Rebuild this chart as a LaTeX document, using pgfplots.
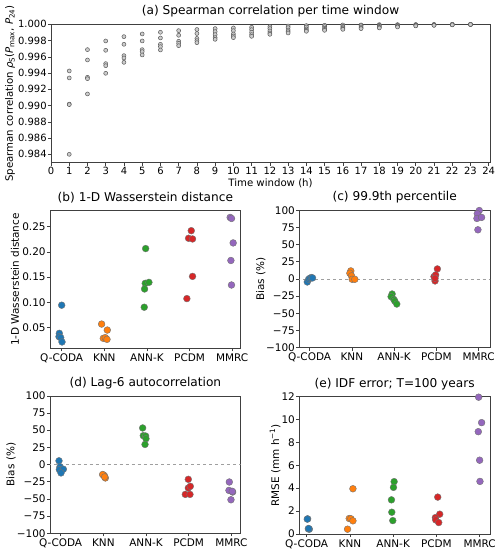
\documentclass[border=0pt]{standalone}
\usepackage{pgfplots}
\pgfplotsset{compat=1.18}
\usepackage{fontspec}
\setmainfont{DejaVu Sans}
\definecolor{c0}{HTML}{1F77B4}
\definecolor{c1}{HTML}{FF7F0E}
\definecolor{c2}{HTML}{2CA02C}
\definecolor{c3}{HTML}{D62728}
\definecolor{c4}{HTML}{9467BD}
\pgfplotsset{
  every axis/.append style={
    scale only axis,
    anchor=south west,
    axis line style={black!75, line width=0.6bp},
    tick pos=left, tick align=outside,
    major tick length=3bp,
    every tick/.style={black!75, line width=0.6bp},
    tick label style={font=\fontsize{10.5}{12}\selectfont, inner sep=1.2bp},
    label style={font=\fontsize{10.5}{12}\selectfont},
    title style={font=\fontsize{12.2}{14}\selectfont, at={(axis description cs:0.5,1)}, anchor=base, yshift=3.5bp},
    /pgf/number format/assume math mode=true,
  },
  ylab/.style={ylabel style={at={(axis description cs:#1,0.5)}, anchor=center}},
  cat/.style={
    width=190.7bp, height=137.5bp,
    xtick={0,1,2,3,4},
    xticklabels={Q-CODA,KNN,ANN-K,PCDM,MMRC},
    xticklabel style={yshift=-1bp},
  },
  strip/.style={only marks, mark=*, mark size=3.4bp,
    mark options={draw=black!55, line width=0.4bp, fill=#1}, color=#1},
  zero/.style={gray!75, dashed, line width=0.6bp, forget plot},
}
\pgfplotstableread{
w  a       b       c       d       e
1  0.99426 0.99340 0.99018 0.99012 0.98400
2  0.99688 0.99561 0.99348 0.99331 0.99143
3  0.99795 0.99680 0.99516 0.99491 0.99397
4  0.99848 0.99754 0.99614 0.99586 0.99532
5  0.99881 0.99795 0.99688 0.99664 0.99623
6  0.99902 0.99832 0.99754 0.99725 0.99684
7  0.99922 0.99865 0.99791 0.99766 0.99737
8  0.99936 0.99887 0.99826 0.99799 0.99774
9  0.99947 0.99910 0.99873 0.99836 0.99815
10 0.99955 0.99922 0.99881 0.99856 0.99836
11 0.99963 0.99934 0.99902 0.99873 0.99852
12 0.99971 0.99947 0.99918 0.99893 0.99877
13 0.99979 0.99959 0.99930 0.99910 0.99893
14 0.99984 0.99967 0.99943 0.99926 0.99914
15 0.99988 0.99971 0.99951 0.99938 0.99926
16 0.99992 0.99975 0.99959 0.99947 0.99938
17 0.99992 0.99984 0.99967 0.99955 0.99947
18 0.99996 0.99988 0.99975 0.99963 0.99955
19 0.99996 0.99992 0.99984 0.99975 0.99967
20 0.99997 0.99994 0.99990 0.99985 0.99980
21 0.99998 0.99996 0.99993 0.99990 0.99987
22 0.99999 0.99998 0.99997 0.99995 0.99993
23 1.00000 0.99999 0.99999 0.99998 0.99997
}\spearman
\begin{document}
\begin{tikzpicture}
\useasboundingbox (0,0) rectangle (500bp,553bp);
% (a)
\begin{axis}[at={(51bp,390.3bp)}, width=439bp, height=138.4bp,
  xmin=0, xmax=24.07, ymin=0.98297, ymax=1.0,
  xtick={0,1,...,24},
  ytick={0.984,0.986,0.988,0.990,0.992,0.994,0.996,0.998,1.000},
  yticklabels={0.984,0.986,0.988,0.990,0.992,0.994,0.996,0.998,1.000},
  tick label style={font=\fontsize{10}{12}\selectfont},
  label style={font=\fontsize{10.2}{12}\selectfont},
  title={(a) Spearman correlation per time window},
  xlabel={Time window (h)},
  xlabel style={at={(axis description cs:0.5,0)}, anchor=base, yshift=-24bp},
  ylab=-0.0934,
  ylabel={Spearman correlation \textit{ρ}\textsubscript{S}(\textit{P}\textsubscript{max}, \textit{P}\textsubscript{24})},
]
\foreach \col in {a,b,c,d,e}{
  \addplot[only marks, mark=*, mark size=2bp,
    mark options={draw=black!65, fill=gray!40, line width=0.5bp}]
    table[x=w, y=\col] {\spearman};
}
\end{axis}
% (b)
\begin{axis}[cat, at={(50bp,204.7bp)},
  xmin=-0.274, xmax=4.20, ymin=0.0085, ymax=0.2816,
  ytick={0.05,0.10,0.15,0.20,0.25},
  yticklabels={0.05,0.10,0.15,0.20,0.25},
  title={(b) 1-D Wasserstein distance},
  ylab=-0.1835,
  ylabel={1-D Wasserstein distance},
]
\addplot[strip=c0] coordinates {(0,0.0941) (-0.055,0.0382) (-0.063,0.0316) (-0.023,0.0296) (0.008,0.0211)};
\addplot[strip=c1] coordinates {(0.937,0.0566) (1.07,0.0447) (0.977,0.0283) (1.023,0.0296) (1.063,0.0263)};
\addplot[strip=c2] coordinates {(1.97,0.2066) (1.96,0.1375) (2.047,0.1395) (1.945,0.1263) (1.937,0.0901)};
\addplot[strip=c3] coordinates {(3.04,0.2421) (2.977,0.2270) (3.07,0.2257) (3.07,0.1513) (2.937,0.1072)};
\addplot[strip=c4] coordinates {(3.953,0.2684) (3.984,0.2664) (4.023,0.2178) (3.97,0.1829) (3.984,0.1342)};
\end{axis}
% (c)
\begin{axis}[cat, at={(299.3bp,205.3bp)},
  xmin=-0.244, xmax=4.27, ymin=-100, ymax=100,
  ytick={-100,-75,-50,-25,0,25,50,75,100},
  yticklabels={−100,−75,−50,−25,0,25,50,75,100},
  title={(c) 99.9th percentile},
  ylab=-0.2017,
  ylabel={Bias (\%)},
]
\addplot[zero] coordinates {(-1,0) (5,0)};
\addplot[strip=c0] coordinates {(-0.055,-4.4) (-0.024,-0.5) (0.008,1) (0.04,2) (0.07,1.5)};
\addplot[strip=c1] coordinates {(0.976,11.7) (0.953,8.3) (0.992,4.4) (1.008,-0.5) (1.07,-0.5)};
\addplot[strip=c2] coordinates {(1.953,-21.9) (1.929,-25.8) (1.992,-29.7) (2.016,-32.1) (2.063,-36.5)};
\addplot[strip=c3] coordinates {(3.024,14.6) (2.945,3.4) (2.984,5.8) (2.969,-2.9) (2.969,1)};
\addplot[strip=c4] coordinates {(4.016,99.5) (3.969,94.9) (3.961,88) (4.071,89.5) (3.984,71.5)};
\end{axis}
% (d)
\begin{axis}[cat, at={(50bp,19.7bp)},
  xmin=-0.25, xmax=4.22, ymin=-100, ymax=100,
  ytick={-100,-75,-50,-25,0,25,50,75,100},
  yticklabels={−100,−75,−50,−25,0,25,50,75,100},
  title={(d) Lag-6 autocorrelation},
  ylab=-0.2045,
  ylabel={Bias (\%)},
]
\addplot[zero] coordinates {(-1,0) (5,0)};
\addplot[strip=c0] coordinates {(-0.039,5.4) (-0.016,-3.4) (-0.031,-7.3) (0.063,-6.8) (0.008,-12.2)};
\addplot[strip=c1] coordinates {(1.0,-15.1) (1.023,-16.1) (1.047,-19.5) (0.984,-14.5) (1.031,-18)};
\addplot[strip=c2] coordinates {(1.922,53.2) (1.937,42) (1.992,41.5) (2.0,37.6) (1.977,29.3)};
\addplot[strip=c3] coordinates {(2.992,-21.5) (2.992,-34.1) (3.039,-31.7) (2.922,-43.4) (3.031,-43.4)};
\addplot[strip=c4] coordinates {(3.953,-25.4) (3.945,-37.6) (4.031,-40) (3.992,-51.2) (4.023,-39)};
\end{axis}
% (e)
\begin{axis}[cat, at={(299.3bp,19bp)},
  xmin=-0.17, xmax=4.24, ymin=0, ymax=12,
  ytick={0,2,4,6,8,10,12},
  title={(e) IDF error; T=100 years},
  ylab=-0.127,
  ylabel={RMSE (mm h\textsuperscript{−1})},
]
\addplot[strip=c0] coordinates {(0.023,1.32) (0.039,0.45) (0.062,0.42) (0.015,1.30) (0.046,0.48)};
\addplot[strip=c1] coordinates {(1.07,3.95) (0.985,1.35) (1.023,1.33) (1.07,1.15) (0.946,0.42)};
\addplot[strip=c2] coordinates {(2.023,4.57) (2.008,4.07) (1.961,2.98) (1.969,1.9) (1.992,1.17)};
\addplot[strip=c3] coordinates {(3.031,3.22) (3.077,1.73) (2.977,1.43) (2.985,1.23) (3.054,1.0)};
\addplot[strip=c4] coordinates {(3.977,11.94) (4.046,9.72) (3.969,8.93) (4.0,6.44) (4.008,4.59)};
\end{axis}
\end{tikzpicture}
\end{document}
